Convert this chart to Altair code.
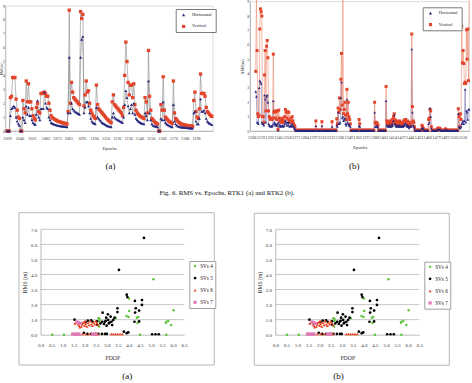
import altair as alt
import pandas as pd

W, H = 472, 383
FONT = "Liberation Serif"
NAVY = "#26267f"
RED = "#e2452b"
SERIES = ["Horizontal", "Vertical"]

# ---------------- RMS vs. Epochs, RTK1 ----------------
a_start = 1029
a_horizontal = [
    0, 0, 0, 1.1, 1.6, 1.7, 1.8, 1.7, 1.0, 0.7,
    0.5, 0.4, 0, 0, 1.0, 0.8, 0.6, 1.8, 1.2, 1.7,
    1.1, 1.1, 0.8, 0.6, 0.5, 0.45, 1.2, 2.2, 1.0, 0.8,
    1.6, 1.6, 1.6, 2.8, 2.0, 1.7, 1.6, 1.0, 0.8, 0.6,
    0.55, 0.5, 0.47, 0.45, 0.42, 0.4, 0.38, 0.36, 0.35, 0.34,
    0.33, 0.32, 0.31, 0.3, 1.3, 5.3, 1.3, 2.0, 1.6, 1.5,
    1.4, 1.35, 1.3, 1.25, 1.2, 5.3, 6.6, 6.8, 1.3, 1.7,
    2.1, 2.1, 1.8, 1.3, 0.9, 0.7, 0.6, 0.55, 0.5, 1.7,
    1.0, 0.9, 0.8, 0.7, 0.6, 0.55, 0.5, 0.45, 0.4, 0.37,
    0.34, 0.32, 0.3, 1.0, 1.3, 1.0, 0.9, 0.85, 0.8, 0.75,
    0.7, 0.65, 0.6, 1.0, 1.9, 2.9, 2.4, 1.8, 1.3, 1.6,
    1.9, 1.3, 2.0, 1.2, 0.9, 0.8, 0.7, 0.65, 0.6, 0.55,
    0.52, 0.5, 1.3, 1.1, 0.8, 3.6, 1.3, 0.8, 0.5, 0.4,
    0.37, 0.34, 0.32, 0.3, 0, 0, 0.9, 0.8, 2.1, 0.8,
    0.6, 0.5, 0.45, 0.4, 0.36, 0.33, 0.3, 1.9, 0.7, 0.5,
    0.4, 0.35, 0.32, 0.3, 0.28, 0.27, 0.26, 0.25, 0.24, 0.23,
    0.22, 0.22, 0.21, 0.2, 0.2, 1.3, 1.4, 0.7, 0.5, 0.5,
    0.9, 2.3, 1.4, 1.4, 1.5, 1.3, 0.9, 0.7, 0.6, 0.55,
    0.5, 0.45,
]
a_vertical = [
    0, 0, 0, 2.4, 2.5, 3.85, 3.85, 3.85, 2.3, 1.5,
    1.0, 0.9, 0, 0, 2.2, 1.6, 1.3, 3.6, 2.1, 3.4,
    2.1, 2.1, 1.6, 1.1, 0.9, 0.8, 1.7, 2.0, 1.4, 1.3,
    2.7, 2.7, 2.75, 2.8, 2.7, 2.5, 2.5, 2.0, 1.5, 1.1,
    0.95, 0.9, 0.85, 0.8, 0.75, 0.7, 0.68, 0.65, 0.62, 0.6,
    0.58, 0.55, 0.52, 0.5, 1.4, 8.7, 2.0, 3.5, 2.8, 2.4,
    2.3, 2.2, 2.1, 2.0, 1.9, 8.6, 8.1, 8.4, 1.8, 2.6,
    3.6, 2.8, 2.9, 2.0, 1.5, 1.3, 1.1, 1.0, 0.9, 3.3,
    1.9, 1.6, 1.5, 1.4, 1.3, 1.2, 1.1, 1.0, 0.9, 0.8,
    0.75, 0.65, 0.6, 2.1, 2.6, 1.9, 1.8, 1.7, 1.6, 1.5,
    1.4, 1.3, 1.1, 1.7, 4.0, 6.4, 5.0, 3.5, 2.6, 3.3,
    3.3, 2.4, 3.4, 1.9, 1.5, 1.3, 1.2, 1.1, 1.05, 1.0,
    0.95, 0.9, 2.4, 2.1, 1.3, 5.8, 2.5, 1.5, 0.9, 0.8,
    0.7, 0.6, 0.55, 0.5, 0, 0, 1.9, 1.5, 3.9, 1.5,
    1.0, 0.9, 0.8, 0.7, 0.65, 0.6, 0.55, 3.6, 1.3, 0.9,
    0.8, 0.7, 0.6, 0.55, 0.5, 0.48, 0.45, 0.43, 0.4, 0.4,
    0.38, 0.37, 0.36, 0.35, 0.34, 2.2, 2.8, 1.4, 1.0, 0.9,
    1.6, 4.1, 2.7, 2.7, 2.7, 2.5, 1.7, 1.4, 1.3, 1.2,
    1.1, 1.05,
]
a_ticks = [1029, 1040, 1051, 1063, 1073, 1083, 1095, 1106, 1116,
           1126, 1136, 1146, 1156, 1166, 1176, 1186, 1196]

# ---------------- RMS vs. Epochs, RTK2 ----------------
b_start = 1212
b_horizontal = [
    2.75, 2.4, 0.6, 0.6, 0.5, 3.0, 3.5, 3.4, 3.3, 0.6,
    0.5, 0.5, 0.4, 2.5, 2.2, 0.6, 2.4, 2.5, 2.0, 0.5,
    0.4, 0.35, 0.3, 0.35, 0.3, 0.4, 2.1, 0.5, 0.6, 0.4,
    0.5, 0.35, 0.5, 0.05, 0.6, 0.4, 0.3, 0.4, 0.3, 0.35,
    0.4, 0.3, 0.35, 0.5, 0.7, 0.6, 0.4, 0.6, 0.4, 0.6,
    0.3, 0.35, 0.4, 0.3, 0.5, 0.35, 0.3, 0.2, 0.15, 0.03,
    0.03, 0.03, 0.03, 0.03, 0.03, 0.03, 0.03, 0.03, 0.03, 0.03,
    0.03, 0.03, 0.03, 0.03, 0.03, 0.03, 0.03, 0.03, 0.03, 0.03,
    0.03, 0.03, 0.03, 0.03, 0.03, 0.03, 0.03, 0.03, 0.03, 0.35,
    0.03, 0.03, 0.03, 0.03, 0.03, 0.03, 0.03, 0.03, 0.35, 0.03,
    0.03, 0.03, 0.03, 0.03, 0.03, 0.03, 0.03, 0.03, 0.03, 0.03,
    0.03, 0.03, 0.03, 0.3, 0.03, 0.03, 0.03, 0.03, 0.03, 0.03,
    0.4, 0.3, 1.3, 0.5, 0.5, 0.6, 2.3, 3.4, 0.9, 1.0,
    0.7, 0.8, 0.9, 0.5, 0.4, 2.2, 0.6, 0.5, 0.4, 0.4,
    0.3, 0.03, 0.03, 0.03, 0.03, 0.03, 0.03, 0.03, 0.03, 0.03,
    0.03, 0.03, 0.03, 0.35, 0.3, 0.03, 0.03, 0.03, 0.03, 0.03,
    0.03, 0.03, 0.03, 0.03, 0.03, 0.03, 0.03, 0.03, 0.03, 0.03,
    0.03, 0.03, 0.03, 0.03, 0.03, 0.03, 1.3, 0.3, 0.3, 0.35,
    0.3, 0.25, 0.03, 0.03, 0.03, 0.03, 0.03, 0.03, 0.03, 0.03,
    0.03, 0.03, 0.03, 2.1, 0.4, 0.3, 0.35, 0.3, 0.4, 0.3,
    0.35, 0.3, 0.5, 0.4, 0.7, 1.1, 0.5, 0.4, 0.3, 0.4,
    0.3, 0.35, 0.3, 0.4, 0.3, 0.3, 0.35, 0.3, 0.3, 0.4,
    0.35, 0.5, 0.5, 0.4, 0.3, 0.4, 0.3, 0.2, 0.3, 0.35,
    0.3, 5.7, 1.3, 0.4, 0.3, 0.2, 0.03, 0.03, 0.03, 0.03,
    0.03, 0.03, 0.03, 0.03, 0.03, 0.03, 0.2, 0.2, 0.15, 0.03,
    0.03, 0.03, 0.03, 0.03, 0.03, 0.03, 0.5, 0.6, 1.6, 1.0,
    0.2, 0.03, 0.03, 0.03, 0.03, 0.03, 0.03, 0.03, 0.03, 0.1,
    0.1, 0.08, 0.1, 0.1, 0.03, 0.03, 0.03, 0.03, 0.03, 0.03,
    0.03, 0.1, 0.08, 0.03, 0.03, 0.03, 0.03, 0.03, 0.03, 0.03,
    0.03, 0.03, 0.03, 0.03, 0.03, 0.03, 0.03, 0.03, 0.03, 0.03,
    1.2, 0.3, 0.2, 0.2, 0.3, 0.5, 0.6, 0.7, 0.5, 0.7,
    2.9, 0.6, 1.4, 1.3, 0.8, 1.5, 1.5,
]
b_vertical = [
    4.15, 9.6, 5.6, 1.2, 1.0, 1.1, 7.1, 8.5, 8.3, 8.0,
    1.0, 1.0, 0.6, 3.9, 5.6, 1.4, 5.9, 6.3, 5.1, 1.4,
    1.0, 0.9, 0.8, 0.85, 0.8, 0.9, 5.35, 1.3, 1.4, 0.9,
    1.35, 0.8, 1.4, 0.1, 1.45, 0.9, 0.7, 0.8, 0.6, 0.75,
    0.9, 0.6, 0.7, 1.0, 1.5, 1.3, 0.9, 1.35, 0.8, 1.3,
    0.6, 0.7, 0.9, 0.6, 1.0, 0.7, 0.5, 0.4, 0.3, 0.05,
    0.05, 0.05, 0.05, 0.05, 0.05, 0.05, 0.05, 0.05, 0.05, 0.05,
    0.05, 0.05, 0.05, 0.05, 0.05, 0.05, 0.05, 0.05, 0.05, 0.05,
    0.05, 0.05, 0.05, 0.05, 0.05, 0.05, 0.05, 0.05, 0.05, 0.7,
    0.05, 0.05, 0.05, 0.05, 0.05, 0.05, 0.05, 0.05, 0.65, 0.05,
    0.05, 0.05, 0.05, 0.05, 0.05, 0.05, 0.05, 0.05, 0.05, 0.05,
    0.05, 0.05, 0.05, 0.65, 0.05, 0.05, 0.05, 0.05, 0.05, 0.05,
    0.85, 0.5, 1.6, 1.3, 2.3, 1.5, 3.6, 5.4, 1.8, 9.6,
    1.2, 1.5, 2.0, 1.1, 0.8, 2.9, 1.2, 2.0, 1.0, 0.8,
    0.5, 0.05, 0.05, 0.05, 0.05, 0.05, 0.05, 0.05, 0.05, 0.05,
    0.05, 0.05, 0.05, 0.8, 0.5, 0.05, 0.05, 0.05, 0.05, 0.05,
    0.05, 0.05, 0.05, 0.05, 0.05, 0.05, 0.05, 0.05, 0.05, 0.05,
    0.05, 0.05, 0.05, 0.05, 0.05, 0.05, 2.0, 0.6, 0.5, 0.6,
    0.5, 0.4, 0.05, 0.05, 0.05, 0.05, 0.05, 0.05, 0.05, 0.05,
    0.05, 0.05, 0.05, 3.1, 0.7, 0.5, 0.6, 0.4, 0.7, 0.5,
    0.6, 0.4, 0.8, 0.6, 1.0, 1.2, 0.8, 0.6, 0.5, 0.7,
    0.4, 0.6, 0.5, 0.7, 0.4, 0.5, 0.6, 0.4, 0.5, 0.7,
    0.6, 0.8, 0.8, 0.6, 0.5, 0.7, 0.4, 0.3, 0.5, 0.6,
    0.4, 6.75, 1.7, 0.7, 0.6, 0.3, 0.05, 0.05, 0.05, 0.05,
    0.05, 0.05, 0.05, 0.05, 0.05, 0.05, 0.4, 0.3, 0.2, 0.05,
    0.05, 0.05, 0.05, 0.05, 0.05, 0.05, 0.8, 0.9, 1.5, 1.4,
    0.3, 0.05, 0.05, 0.05, 0.05, 0.05, 0.05, 0.05, 0.05, 0.15,
    0.2, 0.1, 0.2, 0.15, 0.05, 0.05, 0.05, 0.05, 0.05, 0.05,
    0.05, 0.15, 0.1, 0.05, 0.05, 0.05, 0.05, 0.05, 0.05, 0.05,
    0.05, 0.05, 0.05, 0.05, 0.05, 0.05, 0.05, 0.05, 0.05, 0.05,
    1.55, 1.0, 0.3, 1.2, 0.8, 7.3, 4.75, 5.6, 4.7, 3.3,
    3.4, 3.3, 7.05, 5.0, 7.1, 3.5, 9.6,
]
b_ticks = [1206, 1219, 1232, 1245, 1258, 1271, 1284, 1297, 1310, 1323,
           1336, 1349, 1362, 1375, 1388, 1401, 1414, 1427, 1440, 1453,
           1466, 1479, 1492, 1505, 1518]
epoch_rms_ticks = [0, 1, 2, 3, 4, 5, 6, 7, 8, 9]

# ---------------- RMS vs. PDOP by number of satellites ----------------
SVS = ["SVs 4", "SVs 5", "SVs 6", "SVs 7"]
svs4_pdop = [0.53, 1.06, 2.62, 2.67, 2.67, 2.65, 3.41, 3.89, 3.98, 4.00,
             4.01, 4.36, 4.42, 4.39, 4.50, 5.11, 5.67, 5.70, 5.78, 5.91,
             6.02, 5.69]
svs4_rms = [0.00, 0.00, 1.10, 1.06, 0.93, 0.55, 1.10, 1.24, 1.18, 2.40,
            1.57, 1.13, 1.18, 0.78, 0.00, 3.68, 0.80, 0.87, 0.91, 0.64,
            1.62, 0.00]
svs5_pdop = [4.68, 3.55, 3.90, 3.93, 4.27, 4.31, 4.28, 4.25, 4.46, 4.59,
             4.59, 4.46, 3.48, 3.48, 2.81, 2.97, 3.05, 3.06, 3.09, 3.17,
             3.21, 3.24, 3.29, 2.91, 2.87, 2.99, 3.35, 2.71, 2.79, 1.54,
             2.04, 2.14, 2.29, 2.37, 2.56, 2.56, 1.96, 2.12, 2.30, 2.50,
             2.62, 2.78, 2.92, 3.00, 3.77, 3.90, 3.97, 5.05, 5.20, 5.35,
             2.95, 3.12]
svs5_rms = [6.43, 4.30, 2.66, 2.50, 2.24, 1.75, 1.47, 0.86, 1.60, 2.30,
            1.98, 0.88, 1.75, 1.50, 1.46, 1.13, 1.35, 0.98, 0.75, 1.20,
            0.86, 0.64, 0.98, 0.86, 0.71, 0.60, 1.13, 0.75, 0.86, 1.00,
            0.84, 0.93, 0.95, 0.86, 0.67, 0.89, 0.13, 0.05, 0.05, 0.05,
            0.05, 0.05, 0.05, 0.05, 0.20, 0.10, 0.15, 0.03, 0.03, 0.03,
            0.92, 0.80]
svs6_pdop = [1.55, 1.62, 1.70, 1.75, 1.80, 1.85, 1.90, 1.95, 2.00, 2.05,
             2.10, 2.15, 2.20, 2.25, 2.30, 2.35, 2.40, 2.45, 2.50, 2.55,
             2.60, 1.88, 2.02, 1.78, 1.60, 1.75, 1.90, 2.05, 2.20, 2.35,
             2.50, 2.60, 3.20, 3.30, 3.40, 3.50, 3.60, 3.70]
svs6_rms = [0.75, 0.82, 0.70, 0.60, 0.78, 0.55, 0.68, 0.82, 0.60, 0.72,
            0.55, 0.80, 0.65, 0.90, 0.70, 0.60, 0.82, 0.70, 0.90, 0.78,
            0.65, 0.80, 0.90, 0.50, 0.04, 0.04, 0.04, 0.04, 0.04, 0.04,
            0.04, 0.04, 0.04, 0.04, 0.04, 0.04, 0.04, 0.04]
svs7_pdop = [1.45, 1.52, 1.60, 1.68, 1.75, 2.35, 2.45, 2.50, 1.65, 1.72, 1.80]
svs7_rms = [0.04, 0.04, 0.04, 0.04, 0.04, 0.04, 0.04, 0.04, 0.85, 0.80, 0.75]
pdop_ticks = [0.0, 0.5, 1.0, 1.5, 2.0, 2.5, 3.0, 3.5, 4.0, 4.5, 5.0, 5.5, 6.0, 6.5]
pdop_rms_ticks = [0.0, 1.0, 2.0, 3.0, 4.0, 5.0, 6.0, 7.0]

ONE = pd.DataFrame({"k": [0]})


def epoch_panel(start, hor, ver, ticks, x_dom, x_px, y_px, y_title,
                xlab_pad, xtitle_pad, ylab_pad, ytitle_pad, leg_xy,
                line_h, line_v, sq, tri, legend_font, ytitle_size, ytitle_x=None):
    n = len(ver)
    df = pd.DataFrame({
        "epoch": list(range(start, start + n)) * 2,
        "rms": hor + ver,
        "series": ["Horizontal"] * n + ["Vertical"] * n,
    })
    xs = alt.Scale(domain=x_dom, range=x_px, nice=False, zero=False)
    ys = alt.Scale(domain=[0, 9], range=y_px, nice=False)
    xa = alt.Axis(orient="bottom", offset=y_px[0] - H, values=ticks, format="d",
                  title="Epochs", labelFontSize=4.2, titleFontSize=4.8,
                  labelPadding=xlab_pad, titlePadding=xtitle_pad, ticks=False,
                  domainColor="#9a9a9a", domainWidth=0.7, grid=False,
                  labelOverlap=False, labelFlush=False, minExtent=0,
                  labelColor="#333", titleColor="#333")
    y_opts = dict(orient="left", offset=-x_px[0], values=epoch_rms_ticks, format="d",
                  title=y_title, labelFontSize=4.2, titleFontSize=ytitle_size,
                  labelPadding=ylab_pad, titlePadding=ytitle_pad, ticks=False,
                  domainColor="#9a9a9a", domainWidth=0.7, grid=False,
                  labelOverlap=False, minExtent=0,
                  labelColor="#333", titleColor="#333")
    if ytitle_x is not None:
        y_opts.update(titleX=ytitle_x, titleBaseline="bottom")
    ya = alt.Axis(**y_opts)
    X = alt.X("epoch:Q", scale=xs, axis=xa)
    Y = alt.Y("rms:Q", scale=ys, axis=ya)
    legend = alt.Legend(orient="none", legendX=leg_xy[0], legendY=leg_xy[1],
                        title=None, strokeColor="#7a7a7a", fillColor="white",
                        padding=3.6, labelFontSize=legend_font, labelFont=FONT,
                        labelColor="#222", symbolSize=10, symbolOffset=2,
                        labelOffset=6, rowPadding=6.5, symbolStrokeWidth=0)
    C = alt.Color("series:N", scale=alt.Scale(domain=SERIES, range=[NAVY, RED]),
                  legend=legend)
    S = alt.Shape("series:N", scale=alt.Scale(domain=SERIES, range=["triangle-up", "square"]),
                  legend=legend)
    base = alt.Chart(df)
    frame = alt.Chart(ONE).mark_rect(fillOpacity=0, stroke="#c4c4c4", strokeWidth=0.6).encode(
        x=alt.XDatum(x_dom[0], type="quantitative", scale=xs, axis=xa),
        x2=alt.X2Datum(x_dom[1]),
        y=alt.YDatum(0, type="quantitative", scale=ys, axis=ya),
        y2=alt.Y2Datum(9),
    )
    lh = base.transform_filter(alt.datum.series == "Horizontal").mark_line(
        color=line_h, strokeWidth=0.6).encode(x=X, y=Y)
    lv = base.transform_filter(alt.datum.series == "Vertical").mark_line(
        color=line_v, strokeWidth=0.6).encode(x=X, y=Y)
    pv = base.transform_filter(alt.datum.series == "Vertical").mark_point(
        filled=True, opacity=1, size=sq, strokeWidth=0).encode(x=X, y=Y, color=C, shape=S)
    ph = base.transform_filter(alt.datum.series == "Horizontal").mark_point(
        filled=True, opacity=1, size=tri, strokeWidth=0).encode(x=X, y=Y, color=C, shape=S)
    return alt.layer(frame, lh, lv, pv, ph)


def pdop_panel(x_px, leg_xy, box):
    df = pd.DataFrame({
        "pdop": svs4_pdop + svs5_pdop + svs6_pdop + svs7_pdop,
        "rms": svs4_rms + svs5_rms + svs6_rms + svs7_rms,
        "svs": [SVS[0]] * len(svs4_pdop) + [SVS[1]] * len(svs5_pdop)
        + [SVS[2]] * len(svs6_pdop) + [SVS[3]] * len(svs7_pdop),
    })
    y_px = [334.7, 229.3]
    xs = alt.Scale(domain=[0, 6.5], range=x_px, nice=False, zero=False)
    ys = alt.Scale(domain=[0, 7], range=y_px, nice=False)
    xa = alt.Axis(orient="bottom", offset=y_px[0] - H, values=pdop_ticks, format=".1f",
                  title="PDOP", labelFontSize=5, titleFontSize=5.8,
                  labelPadding=7.5, titlePadding=7, ticks=False,
                  domainColor="#a0a0a0", domainWidth=0.7, grid=False,
                  labelOverlap=False, labelFlush=False, minExtent=0,
                  labelColor="#333", titleColor="#333")
    ya = alt.Axis(orient="left", offset=-x_px[0], values=pdop_rms_ticks, format=".1f",
                  title="RMS (m)", labelFontSize=5, titleFontSize=5.6,
                  labelPadding=3.8, titlePadding=2.6, ticks=False,
                  domainColor="#a0a0a0", domainWidth=0.7, grid=False,
                  labelOverlap=False, minExtent=0,
                  labelColor="#333", titleColor="#333")
    X = alt.X("pdop:Q", scale=xs, axis=xa)
    Y = alt.Y("rms:Q", scale=ys, axis=ya)
    legend = alt.Legend(orient="none", legendX=leg_xy[0], legendY=leg_xy[1],
                        title=None, strokeColor="#a0a0a0", fillColor="white",
                        padding=2.4, labelFontSize=5.2, labelFont=FONT,
                        labelColor="#222", symbolSize=9, symbolOffset=0.8,
                        labelOffset=2.5, rowPadding=6.1, symbolStrokeWidth=0)
    C = alt.Color("svs:N", scale=alt.Scale(domain=SVS,
                  range=["#5cc23a", "#000000", "#ea3d1c", "#e07ab6"]), legend=legend)
    S = alt.Shape("svs:N", scale=alt.Scale(domain=SVS,
                  range=["circle", "circle", "triangle-up", "square"]), legend=legend)
    Z = alt.Size("svs:N", scale=alt.Scale(domain=SVS, range=[6, 10, 9, 8]), legend=None)

    grid = alt.Chart(pd.DataFrame({"g": pdop_rms_ticks[1:]})).mark_rule(
        color="#b0b0b0", strokeWidth=0.7).encode(
        y=alt.Y("g:Q", scale=ys, axis=ya),
        x=alt.XDatum(0, type="quantitative", scale=xs, axis=xa),
        x2=alt.X2Datum(6.5),
    )
    pts = alt.Chart(df).mark_point(filled=True, opacity=1, strokeWidth=0).encode(
        x=X, y=Y, color=C, shape=S, size=Z)
    outer = alt.Chart(ONE).mark_rect(fillOpacity=0, stroke="#a6a6a6", strokeWidth=0.8).encode(
        x=alt.value(box[0]), x2=alt.value(box[1]), y=alt.value(box[2]), y2=alt.value(box[3]))
    return alt.layer(outer, grid, pts)


def note(text, x, y, size):
    return alt.Chart(pd.DataFrame({"t": [text]})).mark_text(
        font=FONT, fontSize=size, align="center", baseline="middle", color="#111"
    ).encode(x=alt.value(x), y=alt.value(y), text="t:N")


panel_a = epoch_panel(a_start, a_horizontal, a_vertical, a_ticks,
                      [1027.5, 1211], [5.3, 213], [131, 6], "RMS (m)",
                      5.5, 4.3, 0.7, 0.0, (175.7, 9), "#8a8a8a", "#8a8a8a", 11, 9, 4.6,
                      3.3, -1.8)
panel_b = epoch_panel(b_start, b_horizontal, b_vertical, b_ticks,
                      [1203.5, 1528.5], [250, 469.5], [131, 1.7], "RMS(m)",
                      4.6, 4.6, 1.2, 2.6, (422.7, 7.3), "#7272b4", "#ef8a6e", 9, 7, 4.4,
                      4.2)
panel_c = pdop_panel([40.5, 184.2], (189.3, 261), (19, 214.3, 212.7, 365))
panel_d = pdop_panel([275.3, 419.3], (424.3, 261.7), (254.3, 449.3, 213.3, 365.3))

notes = [
    note("(a)", 110.5, 165.5, 9),
    note("(b)", 354.3, 165.5, 9),
    note("Fig. 6.  RMS vs. Epochs, RTK1 (a) and RTK2 (b).", 227, 192.5, 6.8),
    note("(a)", 127.3, 375.5, 9),
    note("(b)", 338.5, 375.5, 9),
]

chart = alt.layer(panel_a, panel_b, panel_c, panel_d, *notes).resolve_scale(
    x="independent", y="independent", color="independent",
    shape="independent", size="independent",
).properties(
    width=W, height=H, padding=0, background="white",
    autosize=alt.AutoSizeParams(type="none"),
).configure_view(strokeWidth=0).configure_axis(
    labelFont=FONT, titleFont=FONT, titleFontWeight="normal",
).configure_legend(labelFont=FONT)

chart.save("out.html", embed_options={"renderer": "svg", "actions": False})
